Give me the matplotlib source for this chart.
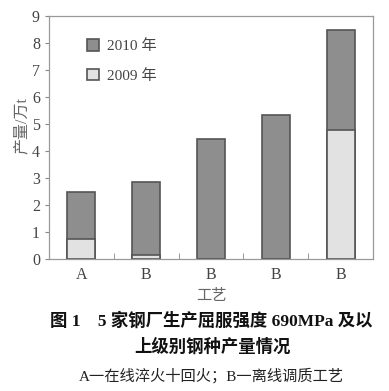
import matplotlib
matplotlib.use("Agg")
import matplotlib.pyplot as plt
from matplotlib.patches import Patch
import numpy as np

plt.rcParams['font.family'] = ['Liberation Serif', 'Noto Sans CJK SC', 'DejaVu Sans']

# 数据
categories = ['A', 'B', 'B', 'B', 'B']
prod_2010 = [2.46, 2.85, 4.42, 5.31, 8.47]
prod_2009 = [0.73, 0.16, 0.0, 0.0, 4.78]

dark = '#8e8e8e'
light = '#e2e2e2'
edge = '#555555'
txt = '#444444'

fig = plt.figure(figsize=(3.89, 3.91), dpi=100)
ax = fig.add_axes([0.126, 0.338, 0.833, 0.622])

x = np.arange(len(categories))
w = 0.43
ax.bar(x, prod_2010, width=w, color=dark, edgecolor=edge, linewidth=1.2)
ax.bar(x, prod_2009, width=w, color=light, edgecolor=edge, linewidth=1.2)

ax.set_xlim(-0.5, 4.5)
ax.set_ylim(0, 9)
ax.set_yticks(range(10))
ax.set_xticks(x)
ax.set_xticklabels(categories)
ax.set_xticks(x[:-1] + 0.5, minor=True)
ax.tick_params(axis='x', which='major', length=0, labelsize=11.5, colors=txt, pad=6)
ax.tick_params(axis='x', which='minor', direction='in', length=4, color='#888888')
ax.tick_params(axis='y', direction='out', length=3, labelsize=11.5, colors=txt, color='#888888')
for s in ax.spines.values():
    s.set_color('#999999')
    s.set_linewidth(0.9)

ax.set_ylabel('产量/万t', fontsize=11.5, color='#666666')
ax.yaxis.set_label_coords(-0.06, 0.55)
ax.set_xlabel('工艺', fontsize=11, color='#666666', labelpad=4)

handles = [Patch(facecolor=dark, edgecolor=edge, linewidth=1.2, label='2010 年'),
           Patch(facecolor=light, edgecolor=edge, linewidth=1.2, label='2009 年')]
ax.legend(handles=handles, loc='upper left', bbox_to_anchor=(0.075, 0.96), frameon=False,
          fontsize=11, handlelength=0.8, handleheight=0.8, handletextpad=0.5,
          labelspacing=1.0, labelcolor=txt)

fig.text(0.543, 0.180, '图 1　5 家钢厂生产屈服强度 690MPa 及以', ha='center', va='center',
         fontsize=12.5, fontweight='bold', color='#111111')
fig.text(0.545, 0.112, '上级别钢种产量情况', ha='center', va='center',
         fontsize=12.5, fontweight='bold', color='#111111')
fig.text(0.543, 0.040, 'A一在线淬火十回火；B一离线调质工艺', ha='center', va='center',
         fontsize=11, color='#222222')

fig.savefig('out.png', dpi=100)
